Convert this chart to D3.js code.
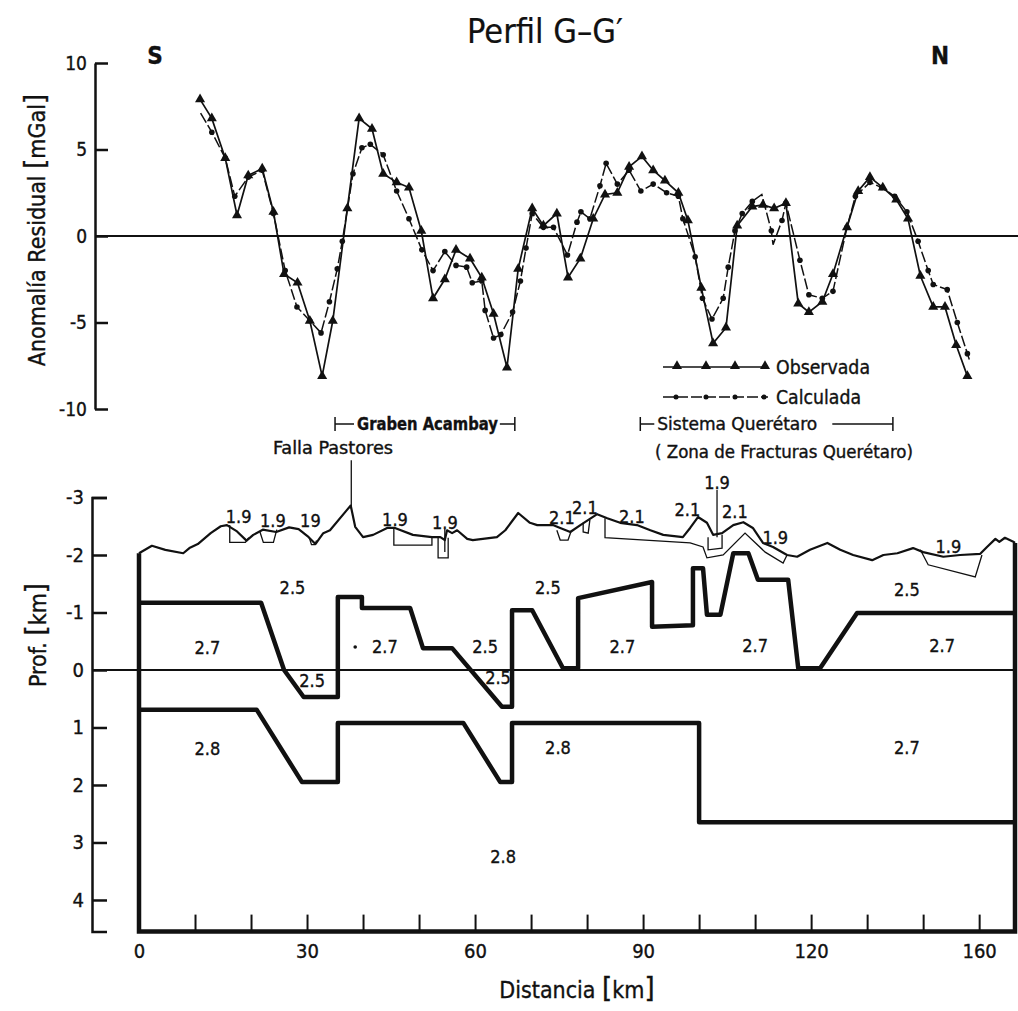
<!DOCTYPE html>
<html>
<head>
<meta charset="utf-8">
<script src="https://cdn.jsdelivr.net/npm/d3@7"></script>
<style>
  body { margin: 0; background: #fff; }
  svg { display: block; }
  text { font-family: "DejaVu Sans Condensed", "DejaVu Sans", sans-serif; fill: #111; stroke: #111; stroke-width: 0.35px; }
</style>
</head>
<body>
<svg id="viz" width="1018" height="1011"></svg>
<script>
// ---- anomaly profile (top) ----
const obsKm  = [10.9,13.0,15.4,17.5,19.5,22.0,24.0,25.9,28.3,30.5,32.7,34.6,37.2,39.3,41.6,43.6,46.0,48.2,50.4,52.5,54.6,56.6,59.1,61.2,63.3,65.7,67.7,70.2,72.2,74.6,76.6,78.8,81.1,83.2,85.4,87.5,89.8,91.8,93.9,96.3,98.0,100.4,102.5,104.8,106.8,109.5,111.4,113.4,115.5,117.7,119.6,122.0,123.9,126.4,128.4,130.5,132.8,135.2,137.3,139.5,141.8,143.9,145.9,147.9];
const obsVal = [7.9,6.8,4.5,1.2,3.5,3.9,1.4,-2.2,-2.7,-4.9,-8.1,-4.9,1.6,6.8,6.2,3.6,3.1,2.8,0.3,-3.6,-2.5,-0.8,-1.3,-2.4,-4.5,-7.6,-1.9,1.6,0.6,1.3,-2.4,-1.3,1.0,2.4,2.5,4.0,4.6,3.8,3.2,2.5,0.9,-3.0,-6.2,-5.3,0.6,1.7,1.8,1.6,1.9,-3.9,-4.4,-3.8,-2.2,0.5,2.6,3.4,2.8,2.1,1.0,-2.3,-4.1,-4.1,-6.3,-8.1];
const calKm  = [11.0,13.0,15.4,17.1,19.5,22.0,24.0,26.1,28.2,30.5,32.5,34.0,35.4,36.3,38.2,39.8,41.3,43.6,46.0,48.2,50.5,52.5,54.6,56.6,58.5,59.5,61.2,61.8,63.3,64.6,66.7,68.1,69.1,70.2,72.2,74.0,76.5,78.2,78.9,80.5,82.3,83.4,85.4,87.5,89.6,91.8,94.2,96.3,97.1,99.3,100.6,102.3,104.3,105.2,106.4,107.7,109.5,111.2,112.9,113.2,114.8,115.5,118.0,119.6,122.0,123.9,126.4,127.9,130.5,132.6,134.9,137.1,139.1,140.9,141.8,144.3,146.1,147.9,148.4];
const calVal = [7.1,6.0,4.5,2.3,3.4,3.8,1.3,-2.0,-4.1,-4.9,-5.6,-3.8,-1.9,-0.3,3.6,5.1,5.3,4.7,2.6,1.0,-0.8,-2.0,-0.9,-1.7,-1.8,-2.7,-2.6,-4.3,-5.9,-5.7,-4.4,-2.6,-0.7,1.3,0.5,0.5,-1.1,0.8,1.4,1.0,2.9,4.2,3.0,3.8,2.6,3.0,2.5,2.3,1.0,-1.2,-3.6,-4.8,-3.6,-1.8,0.3,1.3,2.0,2.4,0.3,-0.5,0.9,1.9,-1.4,-3.4,-3.6,-3.2,0.5,2.3,3.1,2.8,2.3,1.4,-0.3,-2.0,-2.8,-3.1,-5.0,-6.8,-7.3];
const calNoMark = [0, 57, 59, 78]; // vertices drawn without a dot
const anomTicks = [10, 5, 0, -5, -10];

// ---- density model (bottom), [km, depth km] ----
const topoKm = [0,2.3,4.7,7.9,9.0,10.5,12.8,14.6,15.7,17.5,19.2,20.4,22.1,24.5,26.8,28.5,30.3,31.5,32.9,34.1,37.1,37.8,38.6,40.0,41.8,44.3,45.7,48.9,52.3,53.8,54.6,55.0,55.9,56.8,58.6,59.6,63.9,65.4,67.7,69.8,71.1,73.9,75.2,77.0,78.8,81.8,83.6,85.9,88.9,91.3,93.6,97.1,98.4,99.8,101.4,102.5,104.1,106.1,107.9,109.6,111.4,113.2,115.7,117.5,119.8,122.9,125.2,127.5,130.9,132.9,135.4,138.2,140.0,143.6,146.6,150.2,151.4,152.9,153.6,154.6,156.1,156.4];
const topoDepth = [-2.03,-2.16,-2.09,-2.03,-2.12,-2.19,-2.38,-2.50,-2.52,-2.41,-2.25,-2.35,-2.44,-2.40,-2.48,-2.45,-2.31,-2.19,-2.38,-2.43,-2.78,-2.86,-2.49,-2.31,-2.35,-2.47,-2.47,-2.35,-2.31,-2.31,-2.26,-2.43,-2.38,-2.43,-2.28,-2.26,-2.31,-2.43,-2.73,-2.56,-2.52,-2.52,-2.47,-2.40,-2.52,-2.71,-2.64,-2.56,-2.52,-2.43,-2.35,-2.31,-2.47,-2.66,-2.56,-2.35,-2.38,-2.52,-2.57,-2.47,-2.21,-2.14,-2.00,-1.97,-2.09,-2.21,-2.09,-2.00,-1.91,-2.00,-2.03,-2.12,-2.05,-1.97,-2.00,-2.02,-2.14,-2.28,-2.23,-2.30,-2.23,-2.21];

const upperBoundary = [[0,-1.17],[21.8,-1.17],[25.9,0],[29.4,0.47],[35.5,0.47],[35.5,-1.27],[39.8,-1.27],[39.8,-1.08],[48.4,-1.08],[50.7,-0.38],[55.9,-0.38],[64.8,0.64],[66.6,0.64],[66.6,-1.04],[70.2,-1.04],[75.7,-0.03],[78.4,-0.03],[78.4,-1.25],[91.6,-1.53],[91.6,-0.75],[98.9,-0.78],[98.9,-1.77],[100.7,-1.77],[101.4,-0.96],[103.8,-0.96],[106.1,-2.03],[108.8,-2.03],[110.5,-1.57],[115.9,-1.57],[117.7,-0.03],[121.6,-0.03],[128.2,-0.99],[156.4,-0.99]];
const lowerBoundary = [[0,0.69],[21.0,0.69],[29.1,1.95],[35.5,1.95],[35.5,0.92],[57.9,0.92],[64.5,1.95],[66.6,1.95],[66.6,0.92],[100.0,0.92],[100.0,2.65],[156.4,2.65]];

const shallowBodies = [
  [[16.2,-2.52],[16.2,-2.22],[19.0,-2.22],[19.6,-2.30]],
  [[21.6,-2.40],[22.2,-2.22],[24.0,-2.22],[24.6,-2.44]],
  [[30.4,-2.30],[30.8,-2.18],[31.4,-2.18],[31.7,-2.25]],
  [[45.5,-2.47],[45.5,-2.17],[52.3,-2.17],[52.3,-2.31]],
  [[53.4,-2.30],[53.4,-1.95],[55.2,-1.95],[55.2,-2.30]],
  [[74.6,-2.43],[75.2,-2.26],[76.6,-2.26],[77.1,-2.40]],
  [[79.3,-2.56],[79.3,-2.40],[80.2,-2.38],[80.5,-2.61]],
  [[83.2,-2.64],[83.2,-2.30],[98.4,-2.21],[100.7,-2.14],[101.4,-1.95],[104.3,-2.00],[108.2,-2.38],[111.8,-2.05],[115.0,-1.86],[115.7,-2.00]],
  [[101.6,-2.31],[101.6,-2.09],[104.1,-2.12],[104.1,-2.35]],
  [[139.5,-2.09],[140.9,-1.83],[149.3,-1.62],[150.5,-2.00]]
];
const pointerLines = [ // short leader lines from labels
  [[54.6,-2.45],[54.6,-2.05]],
  [[103.2,-3.13],[103.2,-2.31]],
  [[37.9,-3.65],[37.9,-2.80]]
];
const densityLabels = ["1.9","1.9","19","1.9","1.9","2.1","2.1","2.1","2.1","2.1","1.9","1.9","1.9","2.5","2.5","2.5","2.5","2.7","2.7","2.5","2.5","2.7","2.7","2.7","2.8","2.8","2.7","2.8"];
const densityKm   = [17.8,23.9,30.6,45.7,54.6,75.5,79.6,88.0,97.9,106.4,103.2,113.6,144.5,27.4,73.0,137.1,61.8,12.2,43.9,30.9,64.1,86.3,110.0,143.4,12.2,74.8,137.1,65.0];
const densityDep  = [-2.66,-2.60,-2.59,-2.61,-2.57,-2.64,-2.83,-2.66,-2.78,-2.75,-3.25,-2.30,-2.14,-1.43,-1.43,-1.39,-0.40,-0.39,-0.40,0.18,0.14,-0.40,-0.43,-0.43,1.37,1.36,1.36,3.25];
const depthTicks = [-3,-2,-1,0,1,2,3,4];
const modelEndKm = 156.4, modelBottom = 4.55;

// ---- x axis ----
const xTickKm = [0,10,20,30,40,50,60,70,80,90,100,110,120,130,140,150];
const xTickLabel = {0:"0",30:"30",60:"60",90:"90",120:"120",150:"160"};

// ---- annotations ----
const spans = [
  {name:"Graben Acambay", from:35.0, to:67.1},
  {name:"Sistema Querétaro", from:89.5, to:134.6}
];

const svg = d3.select("#viz");
const x = d3.scaleLinear().domain([0, modelEndKm]).range([139, 1015]);
const yA = d3.scaleLinear().domain([-10, 10]).range([409, 63]);
const yD = d3.scaleLinear().domain([-3, modelBottom]).range([497.5, 931.6]);

// title and orientation
svg.append("text").attr("x", 545).attr("y", 43).attr("text-anchor", "middle")
  .style("font-size", "34px").style("stroke-width", "0.2px").text("Perfil G–G′");
svg.append("text").attr("x", 155).attr("y", 64).attr("text-anchor", "middle")
  .style("font-size", "24px").style("font-weight", "bold").text("S");
svg.append("text").attr("x", 940).attr("y", 64).attr("text-anchor", "middle")
  .style("font-size", "24px").style("font-weight", "bold").text("N");

// ---- top panel axis ----
const axA = svg.append("g").attr("transform", "translate(95,0)")
  .call(d3.axisLeft(yA).tickValues(anomTicks).tickSizeInner(-13).tickSizeOuter(0)
    .tickPadding(8).tickFormat(d => String(d)));
axA.selectAll("path,line").attr("stroke", "#111").attr("stroke-width", 2.5);
axA.selectAll("text").style("font-size", "19px").style("font-family", null);

svg.append("line").attr("x1", 95).attr("x2", 1018).attr("y1", yA(0)).attr("y2", yA(0))
  .attr("stroke", "#111").attr("stroke-width", 2.2);

svg.append("text").attr("transform", "translate(45,230) rotate(-90)")
  .attr("text-anchor", "middle").style("font-size", "23px")
  .html('Anomalía Residual <tspan font-size="29">[</tspan>mGal<tspan font-size="29">]</tspan>');

const obs = obsKm.map((k, i) => [k, obsVal[i]]);
const cal = calKm.map((k, i) => [k, calVal[i]]);
const lineA = d3.line().x(d => x(d[0])).y(d => yA(d[1]));

svg.append("path").attr("d", lineA(cal)).attr("fill", "none")
  .attr("stroke", "#111").attr("stroke-width", 1.5).attr("stroke-dasharray", "11,3");
svg.append("path").attr("d", lineA(obs)).attr("fill", "none")
  .attr("stroke", "#111").attr("stroke-width", 1.7);

svg.append("g").selectAll("circle").data(cal.filter((d, i) => !calNoMark.includes(i)))
  .join("circle").attr("cx", d => x(d[0])).attr("cy", d => yA(d[1])).attr("r", 2.8).attr("fill", "#111");
const tri = d3.symbol().type(d3.symbolTriangle).size(44);
svg.append("g").selectAll("path").data(obs).join("path")
  .attr("transform", d => `translate(${x(d[0])},${yA(d[1])})`).attr("d", tri).attr("fill", "#111");

// legend
const legObsX = [677, 706, 735, 765];
svg.append("line").attr("x1", 663).attr("x2", 767).attr("y1", 367).attr("y2", 367)
  .attr("stroke", "#111").attr("stroke-width", 1.7);
svg.append("g").selectAll("path").data(legObsX).join("path")
  .attr("transform", d => `translate(${d},366)`).attr("d", tri).attr("fill", "#111");
svg.append("text").attr("x", 776).attr("y", 374).attr("textLength", 94).attr("lengthAdjust", "spacingAndGlyphs")
  .style("font-size", "19px").text("Observada");
svg.append("line").attr("x1", 663).attr("x2", 768).attr("y1", 397).attr("y2", 397)
  .attr("stroke", "#111").attr("stroke-width", 1.5).attr("stroke-dasharray", "11,3");
svg.append("g").selectAll("circle").data([676, 706, 735, 764]).join("circle")
  .attr("cx", d => d).attr("cy", 397).attr("r", 2.5).attr("fill", "#111");
svg.append("text").attr("x", 776).attr("y", 404).attr("textLength", 85).attr("lengthAdjust", "spacingAndGlyphs")
  .style("font-size", "19px").text("Calculada");

// spans
spans.forEach((s, i) => {
  const g = svg.append("g");
  const x0 = x(s.from), x1 = x(s.to), yy = 424;
  const t = g.append("text").attr("y", yy + 6).style("font-size", "17px")
    .style("font-weight", i === 0 ? "bold" : "normal").text(s.name);
  let tx0, tx1;
  if (i === 0) { tx0 = x0 + 22; tx1 = x1 - 17; }
  else { tx0 = x0 + 17; tx1 = x0 + 177; }
  t.attr("x", tx0).attr("textLength", tx1 - tx0).attr("lengthAdjust", "spacingAndGlyphs");
  g.append("line").attr("x1", x0).attr("x2", tx0 - 3).attr("y1", yy).attr("y2", yy).attr("stroke", "#111").attr("stroke-width", 1.5);
  g.append("line").attr("x1", tx1 + (i === 0 ? 2 : 15)).attr("x2", x1).attr("y1", yy).attr("y2", yy).attr("stroke", "#111").attr("stroke-width", 1.5);
  [x0, x1].forEach(xx => g.append("line").attr("x1", xx).attr("x2", xx).attr("y1", yy - 7).attr("y2", yy + 7)
    .attr("stroke", "#111").attr("stroke-width", 1.5));
});
svg.append("text").attr("x", 273).attr("y", 454).attr("textLength", 120).attr("lengthAdjust", "spacingAndGlyphs")
  .style("font-size", "17px").text("Falla Pastores");
svg.append("text").attr("x", 655).attr("y", 458).attr("textLength", 258).attr("lengthAdjust", "spacingAndGlyphs")
  .style("font-size", "17px").text("( Zona de Fracturas Querétaro)");

// ---- bottom panel ----
const axD = svg.append("g").attr("transform", "translate(92,0)")
  .call(d3.axisLeft(yD).tickValues(depthTicks).tickSizeInner(-15).tickSizeOuter(-15)
    .tickPadding(8).tickFormat(d => String(d)));
axD.selectAll("path,line").attr("stroke", "#111").attr("stroke-width", 2.5);
axD.selectAll("text").style("font-size", "20px").style("font-family", null);

svg.append("text").attr("transform", "translate(46,635) rotate(-90)")
  .attr("text-anchor", "middle").style("font-size", "23px")
  .html('Prof. <tspan font-size="29">[</tspan>km<tspan font-size="29">]</tspan>');

svg.append("line").attr("x1", 92).attr("x2", 1015).attr("y1", yD(0)).attr("y2", yD(0))
  .attr("stroke", "#111").attr("stroke-width", 2);

const lineD = d3.line().x(d => x(d[0])).y(d => yD(d[1]));
const topo = topoKm.map((k, i) => [k, topoDepth[i]]);

shallowBodies.forEach(b => svg.append("path").attr("d", lineD(b)).attr("fill", "none")
  .attr("stroke", "#111").attr("stroke-width", 1.3));
pointerLines.forEach(b => svg.append("path").attr("d", lineD(b)).attr("fill", "none")
  .attr("stroke", "#111").attr("stroke-width", 1.3));

svg.append("path").attr("d", lineD(topo)).attr("fill", "none")
  .attr("stroke", "#111").attr("stroke-width", 2.2).attr("stroke-linejoin", "round");

[upperBoundary, lowerBoundary].forEach(b => svg.append("path").attr("d", lineD(b))
  .attr("fill", "none").attr("stroke", "#111").attr("stroke-width", 4.5).attr("stroke-linejoin", "round"));

// model frame
const frame = [[0, topoDepth[0]], [0, modelBottom], [modelEndKm, modelBottom], [modelEndKm, topoDepth[topoDepth.length - 1]]];
svg.append("path").attr("d", lineD(frame)).attr("fill", "none").attr("stroke", "#111").attr("stroke-width", 4.5);

// x axis
const axX = svg.append("g").attr("transform", `translate(0,${yD(modelBottom)})`)
  .call(d3.axisBottom(x).tickValues(xTickKm).tickSizeInner(-17).tickSizeOuter(0)
    .tickPadding(12).tickFormat(d => xTickLabel[d] || ""));
axX.select(".domain").remove();
axX.selectAll("line").attr("stroke", "#111").attr("stroke-width", 2);
axX.selectAll("text").style("font-size", "20px").style("font-family", null);

svg.append("text").attr("x", 577).attr("y", 998).attr("text-anchor", "middle").style("font-size", "23px")
  .html('Distancia <tspan font-size="29">[</tspan>km<tspan font-size="29">]</tspan>');

svg.append("g").selectAll("text").data(densityLabels).join("text")
  .attr("x", (d, i) => x(densityKm[i])).attr("y", (d, i) => yD(densityDep[i]))
  .attr("dy", "0.35em").attr("text-anchor", "middle").style("font-size", "18px")
  .text(d => d);
svg.append("circle").attr("cx", x(38.6)).attr("cy", yD(-0.4)).attr("r", 1.8).attr("fill", "#111");
</script>
</body>
</html>
